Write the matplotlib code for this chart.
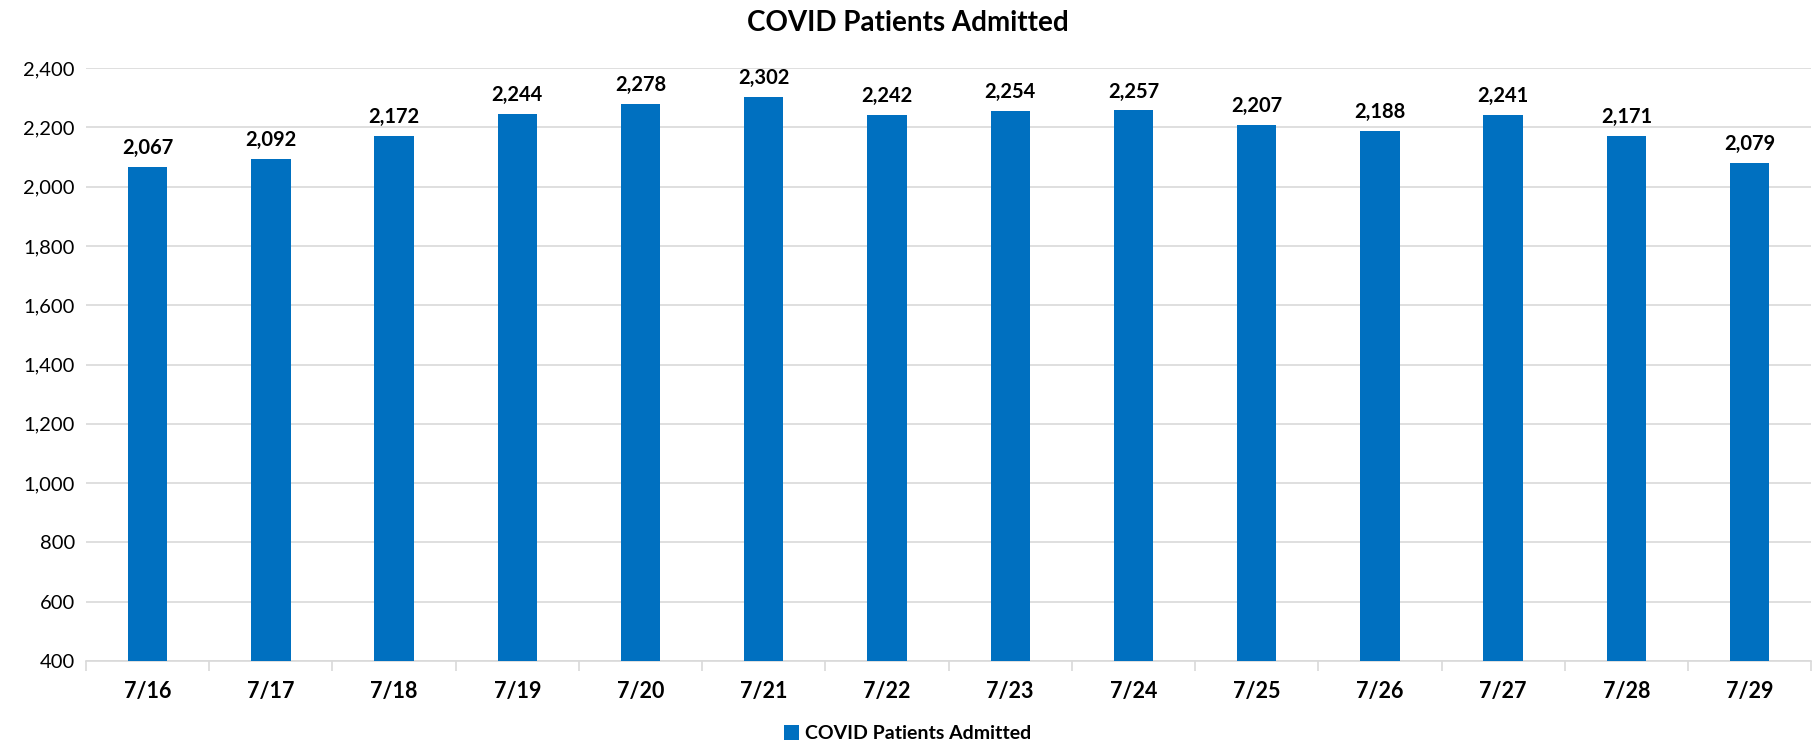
import numpy as np
import matplotlib
matplotlib.use("Agg")
import matplotlib.pyplot as plt
from matplotlib.ticker import FuncFormatter

dates = ["7/16", "7/17", "7/18", "7/19", "7/20", "7/21", "7/22",
         "7/23", "7/24", "7/25", "7/26", "7/27", "7/28", "7/29"]
admitted = [2067, 2092, 2172, 2244, 2278, 2302, 2242,
            2254, 2257, 2207, 2188, 2241, 2171, 2079]

plt.rcParams["font.family"] = ["Lato", "DejaVu Sans"]
blue = "#0070C0"
grid = "#D9D9D9"

fig = plt.figure(figsize=(18.15, 7.47), dpi=100)
ax = fig.add_axes([0.0474, 0.115, 0.9505, 0.794])

x = np.arange(len(dates))
ax.bar(x, admitted, 0.32, bottom=0, color=blue, zorder=3,
       label="COVID Patients Admitted")
for xi, v in zip(x, admitted):
    ax.text(xi, v + 30, f"{v:,}", ha="center", va="bottom",
            fontsize=14.5, fontweight="bold", color="black")

ax.set_ylim(400, 2400)
ax.set_xlim(-0.5, len(dates) - 0.5)
ax.set_yticks(range(400, 2401, 200))
ax.yaxis.set_major_formatter(FuncFormatter(lambda v, p: f"{int(v):,}"))
ax.yaxis.grid(True, color=grid, lw=1.2, zorder=0)
ax.set_xticks(x)
ax.set_xticklabels(dates, fontsize=15.5, fontweight="bold")
ax.set_xticks(np.arange(-0.5, len(dates)), minor=True)
ax.tick_params(axis="x", which="major", length=0, pad=14)
ax.tick_params(axis="x", which="minor", length=7, color=grid, width=1.2)
ax.tick_params(axis="y", length=0, labelsize=14.5, pad=8)
for s in ("top", "right", "left"):
    ax.spines[s].set_visible(False)
ax.spines["bottom"].set_color(grid)
ax.spines["bottom"].set_linewidth(1.2)

fig.suptitle("COVID Patients Admitted", y=0.987, fontsize=20, fontweight="bold")
fig.legend(loc="center", bbox_to_anchor=(0.5, 0.018), frameon=False,
           prop={"weight": "bold", "size": 14},
           handlelength=0.8, handleheight=0.8, handletextpad=0.3)

fig.savefig("out.png", dpi=100)
